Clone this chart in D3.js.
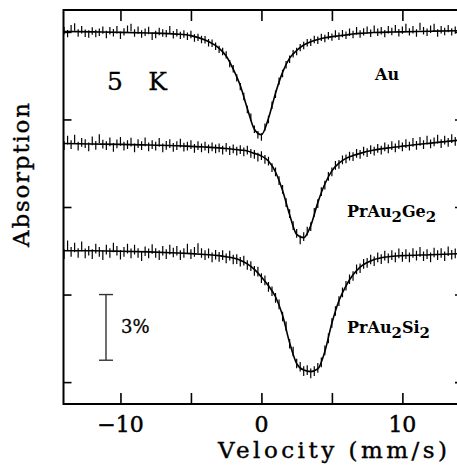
<!DOCTYPE html>
<html><head><meta charset="utf-8">
<script src="https://cdn.jsdelivr.net/npm/d3@7"></script>
<style>body{margin:0;background:#fff}svg{display:block}</style>
</head><body><svg id="c" width="457" height="466"></svg>
<script>
// ---------- data ----------
const velocity = [-14,-13.75,-13.5,-13.25,-13,-12.75,-12.5,-12.25,-12,-11.75,-11.5,-11.25,-11,-10.75,-10.5,-10.25,-10,-9.75,-9.5,-9.25,-9,-8.75,-8.5,-8.25,-8,-7.75,-7.5,-7.25,-7,-6.75,-6.5,-6.25,-6,-5.75,-5.5,-5.25,-5,-4.75,-4.5,-4.25,-4,-3.75,-3.5,-3.25,-3,-2.75,-2.5,-2.25,-2,-1.75,-1.5,-1.25,-1,-0.75,-0.5,-0.25,0,0.25,0.5,0.75,1,1.25,1.5,1.75,2,2.25,2.5,2.75,3,3.25,3.5,3.75,4,4.25,4.5,4.75,5,5.25,5.5,5.75,6,6.25,6.5,6.75,7,7.25,7.5,7.75,8,8.25,8.5,8.75,9,9.25,9.5,9.75,10,10.25,10.5,10.75,11,11.25,11.5,11.75,12,12.25,12.5,12.75,13,13.25,13.5,13.75,14];
// measured absorption (%), relative to each spectrum's baseline
const auData = [-0.05,0.08,-0.15,-0.22,0.05,-0.1,0.06,0.1,-0.04,0.07,0.02,-0.08,0.12,-0.05,0.04,-0.1,0.15,0.0,-0.12,-0.2,0.05,-0.08,0.1,0.02,-0.06,0.2,0.12,-0.02,0.05,0.08,-0.1,0.13,0.04,0.16,0.1,0.2,0.12,0.28,0.25,0.35,0.36,0.5,0.52,0.66,0.8,0.9,1.05,1.45,1.68,2.1,2.5,2.95,3.55,3.9,4.45,4.7,4.8,4.35,4.0,3.35,2.85,2.25,1.9,1.5,1.25,1.0,0.9,0.72,0.62,0.5,0.48,0.35,0.38,0.25,0.3,0.18,0.24,0.1,0.2,0.08,0.15,0.02,0.12,-0.05,0.1,0.0,-0.08,0.06,-0.12,0.02,-0.05,0.08,-0.1,-0.02,-0.15,0.04,-0.08,-0.2,0.0,-0.1,0.05,-0.25,-0.05,0.02,-0.12,-0.2,0.05,-0.1,-0.02,-0.15,0.0,-0.08,-0.05];
const geData = [0.1,-0.15,0.05,-0.2,0.12,-0.05,0.0,0.15,-0.12,0.08,-0.22,0.03,0.1,-0.08,0.18,0.02,-0.1,0.12,0.05,-0.06,0.2,0.0,0.1,-0.08,0.15,0.05,0.12,-0.05,0.2,0.08,0.0,0.18,0.1,-0.02,0.16,0.12,0.05,0.22,0.1,0.2,0.12,0.25,0.15,0.24,0.2,0.3,0.18,0.32,0.24,0.35,0.28,0.38,0.3,0.45,0.5,0.62,0.55,0.72,0.8,1.1,1.3,1.7,2.1,2.7,3.2,3.75,4.1,4.4,4.25,4.0,3.8,3.15,2.75,2.2,1.9,1.5,1.3,1.0,0.95,0.75,0.7,0.58,0.6,0.45,0.5,0.35,0.42,0.28,0.35,0.22,0.3,0.15,0.25,0.1,0.2,0.05,0.15,0.0,0.12,-0.05,0.08,-0.1,0.05,-0.15,0.02,-0.08,-0.2,0.0,-0.15,-0.05,-0.22,-0.1,-0.18];
const siData = [0.15,-0.25,0.05,-0.15,0.1,-0.2,0.12,0.0,0.15,-0.1,0.05,0.2,-0.05,0.1,-0.15,0.0,0.18,0.05,-0.1,0.12,-0.05,0.1,0.25,0.02,0.12,-0.08,0.1,0.2,0.0,0.15,-0.05,0.08,0.0,0.2,0.1,-0.1,0.15,0.05,-0.12,0.1,0.2,0.12,0.3,0.18,0.28,0.2,0.35,0.22,0.4,0.38,0.5,0.45,0.65,0.7,0.92,0.95,1.25,1.35,1.65,1.85,2.15,2.45,3.0,3.45,4.25,4.6,5.15,5.3,5.5,5.45,5.6,5.5,5.35,5.1,4.55,4.0,3.3,2.75,2.3,1.9,1.6,1.3,1.15,0.85,0.8,0.6,0.55,0.4,0.48,0.3,0.38,0.22,0.35,0.2,0.3,0.12,0.28,0.15,0.3,0.1,0.22,0.05,0.25,0.15,0.3,0.08,0.2,0.1,0.25,0.02,0.18,0.12,0.05];
// fitted curves (%), read at these velocities
const fitVelocity = [-14,-12,-10,-8,-6,-5,-4,-3,-2.5,-2,-1.5,-1,-0.5,0,0.5,1,1.5,2,2.5,3,3.5,4,4.5,5,5.5,6,6.5,7,8,9,10,12,14];
const auFit = [-0.02,0.0,0.02,0.05,0.1,0.17,0.37,0.75,1.1,1.7,2.45,3.5,4.45,4.7,3.95,2.8,1.85,1.2,0.85,0.6,0.45,0.35,0.27,0.22,0.18,0.14,0.1,0.07,0.03,0.01,0.0,-0.03,-0.05];
const geFit = [0.0,0.02,0.04,0.07,0.1,0.13,0.16,0.2,0.23,0.26,0.3,0.34,0.45,0.57,0.8,1.3,2.15,3.25,4.15,4.3,3.75,2.7,1.85,1.25,0.9,0.68,0.55,0.45,0.3,0.2,0.12,-0.02,-0.15];
const siFit = [0.0,0.0,0.02,0.05,0.1,0.13,0.17,0.22,0.27,0.33,0.43,0.6,0.85,1.2,1.6,2.1,2.95,4.2,5.15,5.45,5.52,5.4,4.6,3.3,2.28,1.6,1.1,0.75,0.4,0.27,0.22,0.18,0.13];
const sampleNames = ["Au", "PrAu2Ge2", "PrAu2Si2"];
const sampleOffsets = [0, 5.1, 10];        // vertical stacking (%)
const errorHalf = [0.17, 0.2, 0.22];        // error bar half-length (%)
const xTicks = [-10, -5, 0, 5, 10];
const xTickLabels = ["\u221210", "", "0", "", "10"];
const yTicks = [0, 4, 8, 12, 16];
const scaleBarPercent = 3;

// ---------- layout ----------
const svg = d3.select("#c");
const x = d3.scaleLinear().domain([-14.04, 14.3]).range([63.5, 463]);
const y = d3.scaleLinear().domain([-1, 17]).range([10, 404]);
const font = "'DejaVu Serif', 'Liberation Serif', serif";

const series = [
  {name: sampleNames[0], data: auData, fit: auFit, off: sampleOffsets[0], err: errorHalf[0]},
  {name: sampleNames[1], data: geData, fit: geFit, off: sampleOffsets[1], err: errorHalf[1]},
  {name: sampleNames[2], data: siData, fit: siFit, off: sampleOffsets[2], err: errorHalf[2]}
];
svg.append("clipPath").attr("id","clip").append("rect")
  .attr("x", 63.5).attr("y", 10).attr("width", 400).attr("height", 394);
const plot = svg.append("g").attr("clip-path","url(#clip)");
series.forEach(s => {
  plot.append("g").selectAll("line").data(velocity.map((v,i)=>[v, s.data[i]]))
    .join("line")
    .attr("x1", d => x(d[0])).attr("x2", d => x(d[0]))
    .attr("y1", d => y(s.off + d[1] - s.err)).attr("y2", d => y(s.off + d[1] + s.err))
    .attr("stroke", "#000").attr("stroke-width", 1.2);
  const line = d3.line().x((d,i)=>x(fitVelocity[i])).y(d=>y(s.off + d)).curve(d3.curveMonotoneX);
  plot.append("path").datum(s.fit).attr("d", line)
    .attr("fill","none").attr("stroke","#000").attr("stroke-width",1.6);
});

// axes
const axG = svg.append("g");
axG.append("g").attr("transform","translate(0,404)")
  .call(d3.axisBottom(x).tickValues(xTicks).tickSize(-11).tickFormat(""));
axG.append("g").attr("transform","translate(0,10)")
  .call(d3.axisTop(x).tickValues(xTicks).tickSize(-11).tickFormat(""));
axG.append("g").attr("transform","translate(63.5,0)")
  .call(d3.axisLeft(y).tickValues(yTicks).tickSize(-8).tickFormat(""));
axG.append("g").attr("transform","translate(463,0)")
  .call(d3.axisRight(y).tickValues(yTicks).tickSize(-8).tickFormat(""));
axG.selectAll(".domain").remove();
axG.selectAll(".tick line").attr("stroke","#000").attr("stroke-width",1.6);
svg.append("rect").attr("x",63.5).attr("y",10).attr("width",399.5).attr("height",394)
  .attr("fill","none").attr("stroke","#000").attr("stroke-width",2);

// tick labels
svg.append("g").selectAll("text").data(xTicks.map((t,i)=>[t, xTickLabels[i]]).filter(d=>d[1]))
  .join("text").attr("x", d => x(d[0])).attr("y", 432)
  .attr("text-anchor","middle").attr("font-family",font).attr("font-size",22)
  .attr("stroke","#000").attr("stroke-width",0.5)
  .text(d => d[1]);

// axis titles
svg.append("text").attr("x", 218).attr("y", 458)
  .attr("textLength", 229).attr("lengthAdjust","spacing")
  .attr("font-family",font).attr("font-size",23).attr("stroke","#000").attr("stroke-width",0.4)
  .text("Velocity (mm/s)");
svg.append("text").attr("transform","translate(29,247) rotate(-90)")
  .attr("textLength", 144).attr("lengthAdjust","spacing")
  .attr("font-family",font).attr("font-size",23).attr("stroke","#000").attr("stroke-width",0.4)
  .text("Absorption");

// annotations
svg.append("text").attr("x",107).attr("y",90).attr("font-family",font).attr("font-size",25)
  .attr("textLength",60).attr("lengthAdjust","spacing").attr("stroke","#000").attr("stroke-width",0.3)
  .attr("xml:space","preserve").text("5  K");
function chem(sel, parts) {
  parts.forEach(p => {
    sel.append("tspan").attr("dy", p.sub ? 5 : (p.after ? -5 : 0)).attr("font-size", p.sub?15:16).text(p.t);
  });
}
const lbl = svg.append("g").attr("font-family",font).attr("font-weight","bold");
lbl.append("text").attr("x",375).attr("y",80).attr("font-size",16).text(sampleNames[0]);
const t2 = lbl.append("text").attr("x",347).attr("y",217);
chem(t2, [{t:"PrAu"},{t:"2",sub:1},{t:"Ge",after:1},{t:"2",sub:1}]);
const t3 = lbl.append("text").attr("x",347).attr("y",333);
chem(t3, [{t:"PrAu"},{t:"2",sub:1},{t:"Si",after:1},{t:"2",sub:1}]);

// 3% scale bar
const barX = 106;
const barTop = y(yTicks[3]);
const barBot = y(yTicks[3] + scaleBarPercent);
const bar = svg.append("g").attr("stroke","#333").attr("stroke-width",1.4);
bar.append("line").attr("x1",barX).attr("x2",barX).attr("y1",barTop).attr("y2",barBot);
bar.append("line").attr("x1",barX-7).attr("x2",barX+7).attr("y1",barTop).attr("y2",barTop);
bar.append("line").attr("x1",barX-7).attr("x2",barX+7).attr("y1",barBot).attr("y2",barBot);
svg.append("text").attr("x",121).attr("y",333).attr("font-family",font).attr("font-size",18)
  .attr("stroke","#000").attr("stroke-width",0.3).text("3%");
</script></body></html>
